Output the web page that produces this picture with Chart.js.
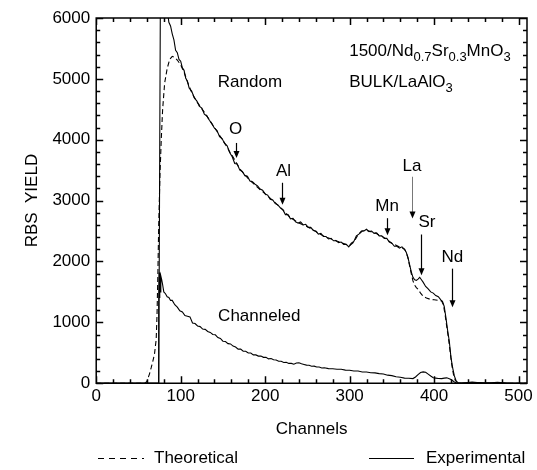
<!DOCTYPE html>
<html>
<head>
<meta charset="utf-8">
<script src="https://cdn.jsdelivr.net/npm/chart.js@4.4.1/dist/chart.umd.min.js"></script>
<style>
  html, body { margin: 0; padding: 0; background: #fff; }
  #wrap { width: 537px; height: 470px; }
</style>
</head>
<body>
<div id="wrap"><canvas id="rbs"></canvas></div>
<script>
// Random, experimental
const randomExpCh = [
  0, 74, 75, 76, 78, 80, 82, 84, 86, 88,
  90, 92, 94, 96, 98, 100, 102, 104, 106, 108,
  110, 113, 116, 119, 122, 125, 128, 131, 134, 137,
  140, 143, 146, 149, 152, 155, 158, 161, 164, 167,
  170, 173, 176, 179, 182, 185, 188, 191, 194, 197,
  200, 203, 206, 209, 212, 215, 218, 221, 224, 227,
  230, 233, 236, 239, 242, 245, 248, 251, 254, 257,
  260, 263, 266, 269, 272, 275, 278, 281, 284, 287,
  290, 293, 296, 299, 302, 305, 308, 311, 314, 317,
  320, 323, 326, 329, 332, 335, 338, 341, 344, 347,
  350, 353, 356, 359, 362, 365, 367, 369, 371, 373,
  375, 377, 379, 381, 383, 385, 387, 390, 393, 396,
  399, 402, 405, 408, 410, 412, 414, 416, 418, 420,
  422, 424, 426, 428, 432, 445, 460, 475, 490, 510
];
const randomExpYield = [
  0, 0, 3200, 6500, 6800, 6700, 6400, 6150, 5930, 5870,
  5740, 5640, 5470, 5430, 5320, 5290, 5180, 5140, 5010, 4960,
  4850, 4800, 4690, 4640, 4550, 4520, 4420, 4390, 4320, 4260,
  4190, 4150, 4050, 4020, 3940, 3900, 3790, 3720, 3610, 3600,
  3500, 3480, 3410, 3400, 3320, 3310, 3270, 3240, 3190, 3170,
  3110, 3090, 3020, 3010, 2950, 2930, 2880, 2850, 2770, 2770,
  2700, 2710, 2650, 2630, 2650, 2600, 2610, 2560, 2560, 2510,
  2500, 2450, 2460, 2410, 2410, 2370, 2380, 2340, 2340, 2310,
  2320, 2280, 2280, 2240, 2300, 2330, 2420, 2450, 2500, 2500,
  2530, 2490, 2500, 2460, 2470, 2420, 2420, 2380, 2380, 2320,
  2300, 2250, 2250, 2220, 2240, 2200, 2150, 2070, 1950, 1830,
  1740, 1700, 1690, 1710, 1740, 1700, 1660, 1590, 1550, 1500,
  1480, 1440, 1420, 1370, 1340, 1260, 1080, 870, 690, 420,
  250, 120, 40, 10, 0, 20, 0, 15, 0, 0
];

// Random, theoretical (simulation)
const randomTheoCh = [
  0, 58, 60, 63, 65, 67, 69, 71, 72, 73,
  74, 75.5, 77, 78.6, 81, 84, 87, 90, 93, 96,
  100, 104, 108, 112, 116, 120, 130, 140, 150, 155,
  158, 161, 165, 170, 180, 190, 200, 210, 220, 230,
  240, 250, 260, 270, 280, 290, 300, 305, 310, 315,
  320, 330, 340, 350, 360, 365, 367, 369, 371, 373,
  375, 377, 379, 381, 384, 387, 391, 395, 400, 405,
  409, 411, 413, 415, 417, 419, 421, 423, 425, 428,
  432, 510
];
const randomTheoYield = [
  0, 0, 30, 150, 250, 360, 480, 720, 1130, 1800,
  2600, 3440, 4000, 4490, 4930, 5170, 5320, 5370, 5350, 5310,
  5230, 5110, 4950, 4810, 4700, 4610, 4410, 4200, 3990, 3880,
  3800, 3740, 3640, 3520, 3360, 3230, 3110, 2990, 2860, 2720,
  2630, 2570, 2490, 2410, 2360, 2310, 2260, 2320, 2440, 2500,
  2510, 2470, 2400, 2300, 2230, 2200, 2150, 2060, 1930, 1800,
  1680, 1610, 1570, 1545, 1480, 1430, 1400, 1380, 1370, 1360,
  1350, 1290, 1130, 930, 740, 520, 300, 140, 50, 5,
  0, 0
];

// Channeled, experimental
const chanExpCh = [
  0, 73.5, 74, 74.5, 75, 75.5, 76, 76.5, 77.5, 78.5,
  80, 82, 84, 86, 88, 90, 93, 96, 99, 102,
  105, 108, 111, 114, 117, 120, 123, 126, 129, 132,
  135, 138, 141, 144, 147, 150, 153, 156, 159, 162,
  165, 168, 171, 174, 177, 180, 183, 186, 189, 192,
  195, 198, 201, 204, 207, 210, 213, 216, 219, 222,
  225, 228, 231, 234, 237, 240, 243, 246, 249, 252,
  255, 258, 261, 264, 267, 270, 275, 280, 285, 290,
  295, 300, 305, 310, 315, 320, 325, 330, 335, 340,
  345, 350, 355, 360, 365, 370, 375, 378, 381, 384,
  387, 390, 393, 396, 399, 402, 405, 409, 412, 415,
  418, 420, 422, 424, 426, 428, 450, 480, 510
];
const chanExpYield = [
  0, 0, 1300, 1820, 1400, 1780, 1500, 1760, 1700, 1630,
  1500, 1470, 1420, 1410, 1360, 1360, 1290, 1250, 1190, 1170,
  1110, 1100, 1090, 990, 980, 940, 930, 890, 885, 850,
  835, 800, 795, 750, 735, 690, 685, 650, 645, 610,
  595, 560, 560, 525, 525, 495, 495, 465, 465, 445,
  445, 425, 425, 400, 405, 385, 380, 360, 360, 340,
  345, 325, 325, 312, 332, 335, 318, 308, 297, 295,
  278, 280, 265, 266, 250, 254, 240, 238, 228, 230,
  215, 214, 200, 200, 185, 184, 172, 170, 158, 152,
  132, 124, 105, 97, 84, 82, 76, 102, 142, 176,
  186, 180, 150, 118, 90, 84, 78, 76, 84, 88,
  74, 60, 40, 20, 8, 0, 10, 0, 0
];

const xTicks = [0, 100, 200, 300, 400, 500];
const yTicks = [0, 1000, 2000, 3000, 4000, 5000, 6000];
const xMinorTicks = [];
for (let v = 0; v <= 500; v += 20) xMinorTicks.push(v);
const yMinorTicks = [];
for (let v = 0; v <= 6000; v += 200) yMinorTicks.push(v);

// element edges: label centre + arrow span (channel, yield)
const peakLabels = [
  { text: 'O',  ch: 165,   y: 4178, arrowCh: 165,   from: 3947, to: 3700 },
  { text: 'Al', ch: 221.7, y: 3475, arrowCh: 220.2, from: 3293, to: 2931 },
  { text: 'Mn', ch: 344.3, y: 2898, arrowCh: 344.7, from: 2711, to: 2431 },
  { text: 'La', ch: 373.8, y: 3557, arrowCh: 374.2, from: 3392, to: 2706, thin: true },
  { text: 'Sr', ch: 391.5, y: 2650, arrowCh: 384,   from: 2443, to: 1772 },
  { text: 'Nd', ch: 421.6, y: 2074, arrowCh: 421.3, from: 1882, to: 1249 }
];

const FONT = '"Liberation Sans", Arial, Helvetica, sans-serif';

const toPoints = (xs, ys) => xs.map((v, i) => ({ x: v, y: ys[i] }));

function drawRuns(ctx, runs, x, y) {
  ctx.textAlign = 'left';
  ctx.textBaseline = 'alphabetic';
  let cx = x;
  runs.forEach(r => {
    ctx.font = (r.sub ? '13px ' : '17px ') + FONT;
    ctx.fillText(r.t, cx, r.sub ? y + 5 : y);
    cx += ctx.measureText(r.t).width;
  });
}

const decorations = {
  id: 'decorations',
  afterDraw(chart) {
    const { ctx, chartArea: a, scales: { x, y } } = chart;
    const L = a.left, R = a.right, T = a.top, B = a.bottom;
    ctx.save();
    ctx.strokeStyle = '#000';
    ctx.fillStyle = '#000';

    // element labels with arrows
    ctx.font = '17px ' + FONT;
    ctx.textAlign = 'center';
    ctx.textBaseline = 'middle';
    peakLabels.forEach(p => {
      ctx.fillText(p.text, x.getPixelForValue(p.ch), y.getPixelForValue(p.y));
      const ax = Math.round(x.getPixelForValue(p.arrowCh)) + 0.5;
      const y0 = y.getPixelForValue(p.from);
      const y1 = y.getPixelForValue(p.to);
      ctx.strokeStyle = p.thin ? '#555' : '#000';
      ctx.lineWidth = p.thin ? 0.8 : 1.2;
      ctx.beginPath();
      ctx.moveTo(ax, y0);
      ctx.lineTo(ax, y1 - 6);
      ctx.stroke();
      ctx.beginPath();
      ctx.moveTo(ax - 3, y1 - 7);
      ctx.lineTo(ax + 3, y1 - 7);
      ctx.lineTo(ax, y1);
      ctx.closePath();
      ctx.fill();
    });

    ctx.fillText('Random', x.getPixelForValue(182), y.getPixelForValue(4937));
    ctx.fillText('Channeled', x.getPixelForValue(193), y.getPixelForValue(1096));

    // sample description
    drawRuns(ctx, [
      { t: '1500/Nd' }, { t: '0.7', sub: true }, { t: 'Sr' }, { t: '0.3', sub: true },
      { t: 'MnO' }, { t: '3', sub: true }
    ], x.getPixelForValue(299.5), y.getPixelForValue(5382));
    drawRuns(ctx, [{ t: 'BULK/LaAlO' }, { t: '3', sub: true }],
      x.getPixelForValue(299.5), y.getPixelForValue(4866));

    // legend
    const ly = 458.5;
    ctx.strokeStyle = '#000';
    ctx.lineWidth = 1;
    ctx.setLineDash([6, 5]);
    ctx.beginPath();
    ctx.moveTo(98, ly); ctx.lineTo(144, ly);
    ctx.stroke();
    ctx.setLineDash([]);
    ctx.beginPath();
    ctx.moveTo(369, ly); ctx.lineTo(414, ly);
    ctx.stroke();
    ctx.font = '17px ' + FONT;
    ctx.textAlign = 'left';
    ctx.textBaseline = 'middle';
    ctx.fillText('Theoretical', 154, ly);
    ctx.fillText('Experimental', 426, ly);

    // frame and inward ticks, stroked as a single path
    ctx.setLineDash([]);
    ctx.strokeStyle = '#000';
    ctx.lineWidth = 1.5;
    ctx.beginPath();
    ctx.moveTo(L, T);
    ctx.lineTo(R, T);
    ctx.lineTo(R, B);
    ctx.lineTo(L, B);
    ctx.closePath();
    for (let i = 0; i < xMinorTicks.length; i++) {
      const v = xMinorTicks[i];
      const px = Math.round(x.getPixelForValue(v)) + 0.5;
      const len = v % 100 === 0 ? 7 : 4;
      ctx.moveTo(px, B);
      ctx.lineTo(px, B - len);
      ctx.moveTo(px, T);
      ctx.lineTo(px, T + len);
    }
    for (let i = 0; i < yMinorTicks.length; i++) {
      const v = yMinorTicks[i];
      const py = Math.round(y.getPixelForValue(v)) + 0.5;
      const len = v % 1000 === 0 ? 7 : 4;
      ctx.moveTo(L, py);
      ctx.lineTo(L + len, py);
      ctx.moveTo(R, py);
      ctx.lineTo(R - len, py);
    }
    ctx.stroke();

    ctx.restore();
  }
};

const lineStyle = {
  borderColor: '#000',
  borderWidth: 1.1,
  pointRadius: 0,
  tension: 0,
  fill: false,
  clip: 0
};

new Chart(document.getElementById('rbs'), {
  type: 'line',
  data: {
    datasets: [
      { ...lineStyle, label: 'Theoretical', data: toPoints(randomTheoCh, randomTheoYield), borderDash: [5, 3] },
      { ...lineStyle, label: 'Experimental random', data: toPoints(randomExpCh, randomExpYield) },
      { ...lineStyle, label: 'Experimental channeled', data: toPoints(chanExpCh, chanExpYield) }
    ]
  },
  options: {
    responsive: true,
    maintainAspectRatio: false,
    animation: false,
    layout: { padding: { left: 18, right: 10, top: 18, bottom: 26 } },
    plugins: {
      legend: { display: false },
      tooltip: { enabled: false }
    },
    scales: {
      x: {
        type: 'linear',
        min: 0,
        max: 510,
        grid: { display: false, drawTicks: false },
        border: { display: false },
        afterBuildTicks: s => { s.ticks = xTicks.map(v => ({ value: v })); },
        ticks: {
          padding: 3, color: '#000', maxRotation: 0,
          font: { family: FONT, size: 17 }, callback: v => String(v)
        },
        title: {
          display: true, text: 'Channels', color: '#000',
          font: { family: FONT, size: 17 }, padding: { top: 10, bottom: 4 }
        }
      },
      y: {
        min: 0,
        max: 6000,
        grid: { display: false, drawTicks: false },
        border: { display: false },
        afterBuildTicks: s => { s.ticks = yTicks.map(v => ({ value: v })); },
        ticks: {
          padding: 6, color: '#000',
          font: { family: FONT, size: 17 }, callback: v => String(v)
        },
        title: {
          display: true, text: 'RBS  YIELD', color: '#000',
          font: { family: FONT, size: 17 }, padding: { top: 4, bottom: 4 }
        }
      }
    }
  },
  plugins: [decorations]
});
</script>
</body>
</html>
